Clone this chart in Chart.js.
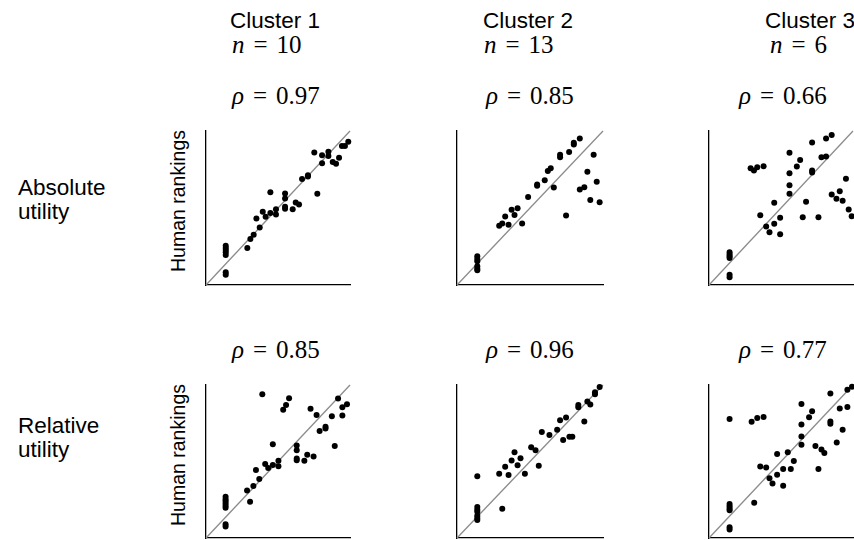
<!DOCTYPE html>
<html>
<head>
<meta charset="utf-8">
<script src="https://cdn.jsdelivr.net/npm/chart.js@4.4.0/dist/chart.umd.min.js"></script>
<style>
  body { margin: 0; background: #fff; }
  #wrap { position: relative; width: 854px; height: 540px; overflow: hidden; }
  .panel { position: absolute; }
  .lbl { position: absolute; white-space: nowrap; color: #000; }
  .sans { font-family: "Liberation Sans", Arial, sans-serif; font-size: 22.5px; }
  .math { font-family: "Liberation Serif", "DejaVu Serif", serif; font-size: 25px; }
  .math i { font-style: italic; }
  .math .eq { margin: 0 0.36em; }
  .rot { font-family: "Liberation Sans", Arial, sans-serif; font-size: 19.5px;
         transform: translate(-50%, -50%) rotate(-90deg); }
</style>
</head>
<body>
<div id="wrap"></div>
<script>
// Titres des colonnes / lignes
const clusters = ['Cluster 1', 'Cluster 2', 'Cluster 3'];
const clusterN = [10, 13, 6];
const rowNames = [['Absolute', 'utility'], ['Relative', 'utility']];
const rhoAbs = [0.97, 0.85, 0.66];
const rhoRel = [0.85, 0.96, 0.77];

// Absolute utility - cluster 1
const absC1X = [0.137, 0.137, 0.137, 0.137, 0.137, 0.137, 0.137, 0.287, 0.308, 0.331, 0.350, 0.373, 0.394, 0.414, 0.447, 0.447, 0.486, 0.486, 0.549, 0.549, 0.549, 0.549, 0.602, 0.623, 0.646, 0.667, 0.708, 0.708, 0.752, 0.773, 0.806, 0.806, 0.850, 0.850, 0.880, 0.903, 0.924, 0.944, 0.965, 0.988];
const absC1Y = [0.255, 0.240, 0.227, 0.212, 0.194, 0.082, 0.067, 0.240, 0.298, 0.326, 0.432, 0.374, 0.475, 0.443, 0.603, 0.467, 0.492, 0.458, 0.594, 0.562, 0.508, 0.495, 0.492, 0.536, 0.523, 0.689, 0.713, 0.704, 0.860, 0.592, 0.842, 0.790, 0.866, 0.838, 0.799, 0.788, 0.827, 0.903, 0.903, 0.931];

// Absolute utility - cluster 2
const absC2X = [0.139, 0.139, 0.139, 0.139, 0.139, 0.139, 0.289, 0.310, 0.330, 0.353, 0.374, 0.394, 0.415, 0.446, 0.487, 0.549, 0.549, 0.601, 0.622, 0.642, 0.663, 0.706, 0.706, 0.747, 0.768, 0.800, 0.800, 0.841, 0.841, 0.872, 0.893, 0.913, 0.936, 0.957, 0.977];
const absC2Y = [0.187, 0.169, 0.154, 0.121, 0.105, 0.095, 0.385, 0.400, 0.444, 0.391, 0.488, 0.455, 0.499, 0.400, 0.571, 0.653, 0.644, 0.681, 0.741, 0.758, 0.633, 0.846, 0.829, 0.451, 0.864, 0.923, 0.912, 0.952, 0.620, 0.635, 0.736, 0.552, 0.846, 0.670, 0.538];

// Absolute utility - cluster 3
const absC3X = [0.143, 0.143, 0.143, 0.143, 0.143, 0.143, 0.289, 0.312, 0.335, 0.379, 0.356, 0.397, 0.420, 0.453, 0.453, 0.494, 0.494, 0.559, 0.559, 0.559, 0.559, 0.610, 0.633, 0.651, 0.674, 0.716, 0.716, 0.716, 0.760, 0.781, 0.813, 0.813, 0.852, 0.852, 0.885, 0.908, 0.928, 0.951, 0.970, 0.991];
const absC3Y = [0.213, 0.198, 0.187, 0.176, 0.066, 0.051, 0.758, 0.743, 0.765, 0.771, 0.453, 0.380, 0.343, 0.398, 0.534, 0.437, 0.330, 0.859, 0.725, 0.648, 0.593, 0.769, 0.811, 0.440, 0.541, 0.925, 0.743, 0.730, 0.440, 0.829, 0.952, 0.835, 0.974, 0.587, 0.560, 0.609, 0.547, 0.690, 0.490, 0.446];

// Relative utility - cluster 1
const relC1X = [0.136, 0.136, 0.136, 0.136, 0.136, 0.136, 0.136, 0.136, 0.285, 0.306, 0.329, 0.347, 0.370, 0.391, 0.411, 0.432, 0.464, 0.464, 0.503, 0.503, 0.536, 0.556, 0.577, 0.630, 0.630, 0.630, 0.630, 0.683, 0.703, 0.726, 0.747, 0.768, 0.789, 0.830, 0.830, 0.874, 0.894, 0.917, 0.947, 0.947, 0.979];
const relC1Y = [0.269, 0.254, 0.241, 0.226, 0.211, 0.198, 0.090, 0.075, 0.310, 0.237, 0.340, 0.445, 0.385, 0.940, 0.484, 0.458, 0.613, 0.477, 0.505, 0.469, 0.839, 0.869, 0.914, 0.604, 0.574, 0.520, 0.508, 0.505, 0.544, 0.845, 0.533, 0.804, 0.699, 0.727, 0.716, 0.796, 0.602, 0.912, 0.854, 0.800, 0.875];

// Relative utility - cluster 2
const relC2X = [0.139, 0.139, 0.139, 0.139, 0.139, 0.139, 0.139, 0.289, 0.310, 0.330, 0.353, 0.374, 0.394, 0.415, 0.435, 0.465, 0.508, 0.538, 0.560, 0.581, 0.633, 0.686, 0.706, 0.727, 0.747, 0.770, 0.790, 0.831, 0.831, 0.872, 0.893, 0.913, 0.945, 0.945, 0.977];
const relC2Y = [0.202, 0.184, 0.171, 0.146, 0.130, 0.117, 0.404, 0.420, 0.191, 0.465, 0.411, 0.506, 0.560, 0.476, 0.521, 0.420, 0.593, 0.573, 0.472, 0.692, 0.674, 0.708, 0.769, 0.640, 0.787, 0.661, 0.661, 0.870, 0.854, 0.762, 0.892, 0.872, 0.953, 0.939, 0.987];

// Relative utility - cluster 3
const relC3X = [0.143, 0.143, 0.143, 0.143, 0.143, 0.143, 0.143, 0.296, 0.335, 0.379, 0.314, 0.356, 0.397, 0.420, 0.441, 0.473, 0.473, 0.515, 0.515, 0.547, 0.568, 0.589, 0.642, 0.642, 0.642, 0.642, 0.695, 0.716, 0.739, 0.760, 0.781, 0.801, 0.843, 0.843, 0.843, 0.887, 0.908, 0.928, 0.961, 0.961, 0.993];
const relC3Y = [0.222, 0.207, 0.193, 0.182, 0.071, 0.056, 0.778, 0.760, 0.784, 0.791, 0.231, 0.467, 0.460, 0.391, 0.356, 0.549, 0.413, 0.451, 0.342, 0.560, 0.451, 0.504, 0.876, 0.742, 0.664, 0.609, 0.789, 0.829, 0.602, 0.451, 0.578, 0.556, 0.944, 0.762, 0.747, 0.624, 0.847, 0.707, 0.969, 0.856, 0.989];

const diagX = [0, 1];
const diagY = [0, 1];

const wrap = document.getElementById('wrap');

function addLabel(html, cls, left, top) {
    const d = document.createElement('div');
    d.className = 'lbl ' + cls;
    d.innerHTML = html;
    d.style.left = left + 'px';
    d.style.top = top + 'px';
    wrap.appendChild(d);
    return d;
}

// zones de tracé (pixels)
const colLeft = [206, 457, 709];
const colWidth = [144, 146, 144];
const rowTop = [131, 385];
const rowHeight = [154, 153];
const pad = 6;

function makePanel(xs, ys, col, row) {
    const c = document.createElement('canvas');
    const w = colWidth[col] + 2 * pad;
    const h = rowHeight[row] + 2 * pad;
    c.className = 'panel';
    c.style.left = (colLeft[col] - pad) + 'px';
    c.style.top = (rowTop[row] - pad) + 'px';
    c.style.width = w + 'px';
    c.style.height = h + 'px';
    c.width = w;
    c.height = h;
    wrap.appendChild(c);

    new Chart(c.getContext('2d'), {
        type: 'scatter',
        data: {
            datasets: [{
                type: 'line',
                data: diagX.map((x, i) => ({ x: x, y: diagY[i] })),
                borderColor: '#8c8c8c',
                borderWidth: 1.3,
                pointRadius: 0,
                order: 2,
                clip: false
            }, {
                data: xs.map((x, i) => ({ x: x, y: ys[i] })),
                backgroundColor: '#000',
                borderColor: '#000',
                pointRadius: 3,
                borderWidth: 0,
                order: 1,
                clip: false
            }]
        },
        options: {
            responsive: false,
            animation: false,
            layout: { padding: pad },
            plugins: { legend: { display: false }, tooltip: { enabled: false } },
            scales: {
                x: {
                    type: 'linear', min: 0, max: 1,
                    grid: { display: false, drawTicks: false },
                    border: { display: true, color: '#000', width: 1.3 },
                    ticks: { display: false }
                },
                y: {
                    type: 'linear', min: 0, max: 1,
                    grid: { display: false, drawTicks: false },
                    border: { display: true, color: '#000', width: 1.3 },
                    ticks: { display: false }
                }
            }
        }
    });
}

makePanel(absC1X, absC1Y, 0, 0);
makePanel(absC2X, absC2Y, 1, 0);
makePanel(absC3X, absC3Y, 2, 0);
makePanel(relC1X, relC1Y, 0, 1);
makePanel(relC2X, relC2Y, 1, 1);
makePanel(relC3X, relC3Y, 2, 1);

// en-têtes
const titleLeft = [230, 483, 765];
const nLeft = [232, 484, 770];
const rhoLeft = [232, 486, 739];
clusters.forEach((t, i) => {
    addLabel(t, 'sans', titleLeft[i], 8);
    addLabel('<i>n</i><span class="eq">=</span>' + clusterN[i], 'math', nLeft[i], 31);
    addLabel('<i>ρ</i><span class="eq">=</span>' + rhoAbs[i].toFixed(2), 'math', rhoLeft[i], 82);
    addLabel('<i>ρ</i><span class="eq">=</span>' + rhoRel[i].toFixed(2), 'math', rhoLeft[i], 336);
});

// noms des lignes
addLabel(rowNames[0].join('<br>'), 'sans', 18, 176).style.lineHeight = '24px';
addLabel(rowNames[1].join('<br>'), 'sans', 18, 414).style.lineHeight = '24px';

// axe y
addLabel('Human rankings', 'rot', 178, 201);
addLabel('Human rankings', 'rot', 178, 455);
</script>
</body>
</html>
